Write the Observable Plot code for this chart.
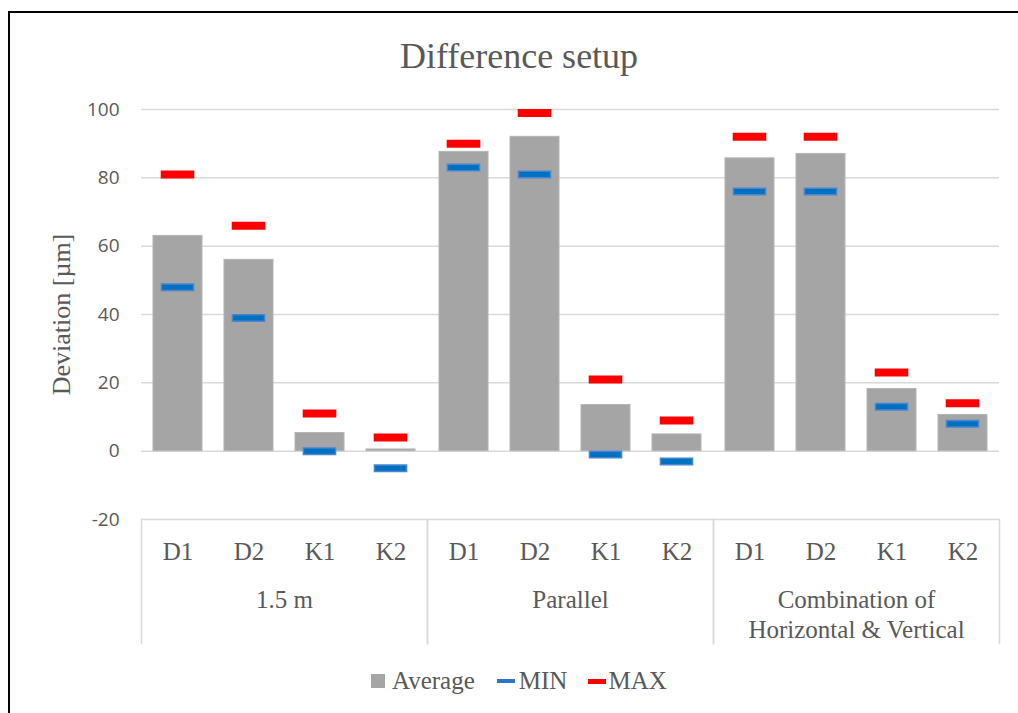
<!DOCTYPE html>
<html>
<head>
<meta charset="utf-8">
<script src="https://cdn.jsdelivr.net/npm/d3@7"></script>
<script src="https://cdn.jsdelivr.net/npm/@observablehq/plot@0.6"></script>
<style>
  html, body { margin: 0; padding: 0; background: #fff; width: 1018px; height: 713px; overflow: hidden; }
  #border { position: absolute; left: 8px; top: 11px; width: 1200px; height: 900px; border-left: 2px solid #000; border-top: 2px solid #000; }
  #title { position: absolute; left: 0; width: 1038px; top: 36px; text-align: center; font-family: "Liberation Serif", serif; font-size: 36px; line-height: 40px; color: #595959; }
  #chart { position: absolute; left: 0; top: 90px; }
  #legend { position: absolute; left: 371px; top: 667px; display: flex; align-items: center; font-family: "Liberation Serif", serif; font-size: 25px; color: #595959; white-space: nowrap; }
  .sw { display: inline-block; }
</style>
</head>
<body>
<div id="border"></div>
<div id="title">Difference setup</div>
<div id="chart"></div>
<div id="legend">
  <span class="sw" style="width:14px;height:14px;background:#a5a5a5;margin-right:7px"></span><span>Average</span>
  <span class="sw" style="width:18px;height:4px;background:#2f74c8;margin-left:22px;margin-right:4px"></span><span>MIN</span>
  <span class="sw" style="width:18px;height:5px;background:#ff0000;margin-left:21px;margin-right:2px"></span><span>MAX</span>
</div>
<script>
const groups = ["1.5 m", "Parallel", "Combination of\nHorizontal & Vertical"];
const categories = ["D1", "D2", "K1", "K2"];
const averages = [63, 56, 5.3, 0.5, 87.6, 92, 13.5, 4.9, 85.7, 87, 18.2, 10.6];
const minValues = [48, 39, 0, -5, 83, 81, -1, -3, 76, 76, 13, 8];
const maxValues = [81, 66, 11, 4, 90, 99, 21, 9, 92, 92, 23, 14];
const yTicks = [-20, 0, 20, 40, 60, 80, 100];

const rows = groups.flatMap((g, i) => categories.map((c, j) => ({
  group: g, cat: c,
  avg: averages[i * 4 + j], min: minValues[i * 4 + j], max: maxValues[i * 4 + j]
})));

const chart = Plot.plot({
  width: 1018,
  height: 560,
  marginLeft: 140,
  marginRight: 19,
  marginTop: 19,
  marginBottom: 131,
  style: { fontFamily: "Liberation Serif", color: "#595959", background: "transparent", overflow: "visible" },
  fx: { domain: groups, paddingInner: 0, paddingOuter: 0, axis: null, label: null },
  x: { domain: categories, paddingInner: 0.31, paddingOuter: 0.155, axis: null, label: null },
  y: { domain: [-20, 100], axis: null },
  marks: [
    Plot.ruleY(yTicks, { stroke: "#d9d9d9", strokeWidth: 1.5 }),
    Plot.frame({ anchor: "left", stroke: "#d9d9d9", strokeWidth: 1.5, insetTop: 410, insetBottom: -124 }),
    Plot.frame({ anchor: "right", stroke: "#d9d9d9", strokeWidth: 1.5, insetTop: 410, insetBottom: -124 }),
    Plot.barY(rows, { fx: "group", x: "cat", y: "avg", fill: "#a5a5a5", stroke: "#b4b4b4", strokeWidth: 1 }),
    Plot.tickY(rows, { fx: "group", x: "cat", y: "min", stroke: "#4a86d0", strokeWidth: 8, insetLeft: 7.7, insetRight: 7.7 }),
    Plot.tickY(rows, { fx: "group", x: "cat", y: "min", stroke: "#0070c0", strokeWidth: 5, insetLeft: 9.2, insetRight: 9.2 }),
    Plot.tickY(rows, { fx: "group", x: "cat", y: "max", stroke: "#ff0000", strokeWidth: 8, insetLeft: 7.7, insetRight: 7.7 }),
    Plot.axisY(yTicks, { anchor: "left", tickSize: 0, tickPadding: 22, fontFamily: "Open Sans", fontSize: 19, label: null, tickFormat: d => String(d) }),
    Plot.axisY([], { anchor: "left", tickSize: 0, label: "Deviation [µm]", labelAnchor: "center", labelArrow: "none", labelOffset: 90, fontSize: 26 }),
    Plot.axisX({ anchor: "bottom", tickSize: 0, tickPadding: 23, fontSize: 25, label: null }),
    Plot.axisFx({ anchor: "bottom", tickSize: 0, tickPadding: 67, fontSize: 25, lineHeight: 1.2, label: null })
  ]
});
document.getElementById("chart").appendChild(chart);
</script>
</body>
</html>
